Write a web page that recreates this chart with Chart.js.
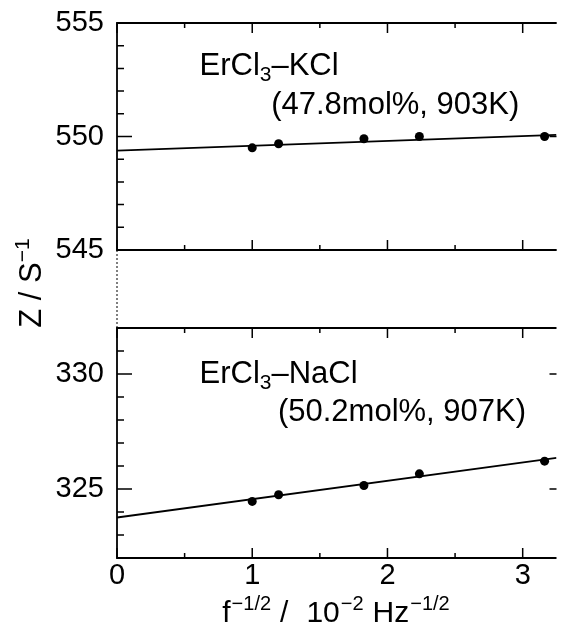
<!DOCTYPE html>
<html>
<head>
<meta charset="utf-8">
<script src="https://cdn.jsdelivr.net/npm/chart.js@4.4.1/dist/chart.umd.min.js"></script>
<style>
  html, body { margin: 0; padding: 0; background: #fff; }
  #wrap { position: relative; width: 561px; height: 626px; }
  #wrap canvas { position: absolute; left: 0; top: 0; }
</style>
</head>
<body>
<div id="wrap">
  <canvas id="chartKCl" width="561" height="626"></canvas>
  <canvas id="chartNaCl" width="561" height="626"></canvas>
</div>
<script>
// measured points, f^-1/2 in 10^-2 Hz^-1/2 (10k, 7k, 3k, 2k, 1k Hz)
const xVals = [1.0, 1.195, 1.826, 2.236, 3.162];
const kclZ = [549.50, 549.68, 549.90, 550.00, 550.00];
const naclZ = [324.46, 324.75, 325.15, 325.66, 326.21];

// fitted lines (end points)
const fitX = [0, 3.25];
const kclFit = [549.38, 550.07];
const naclFit = [323.76, 326.35];

const xTicks = [0, 1, 2, 3];
const kclTicks = [545, 550, 555];
const naclTicks = [325, 330];

const FONT = '"Liberation Sans", Arial, Helvetica, sans-serif';
const pts = (xs, ys) => xs.map((x, i) => ({ x: x, y: ys[i] }));

// rich text: parts = [text, mode, gapBefore] mode 0 normal, 1 sup, -1 sub
function richWidth(ctx, parts, size) {
  let w = 0;
  parts.forEach(([t, m, g]) => {
    ctx.font = (m ? Math.round(size * 0.68) : size) + "px " + FONT;
    w += (g || 0) + ctx.measureText(t).width;
  });
  return w;
}
function drawRich(ctx, parts, x, y, size) {
  ctx.textBaseline = "alphabetic";
  ctx.textAlign = "left";
  parts.forEach(([t, m, g]) => {
    ctx.font = (m ? Math.round(size * 0.68) : size) + "px " + FONT;
    const dy = m === 1 ? -size * 0.4 : m === -1 ? size * 0.2 : 0;
    x += g || 0;
    ctx.fillText(t, x, y + dy);
    x += ctx.measureText(t).width;
  });
}

// frame with inward ticks
const framePlugin = {
  id: "frame",
  afterDraw(chart, args, opts) {
    const ctx = chart.ctx;
    const { left, right, top, bottom } = chart.chartArea;
    const xs = chart.scales.x, ys = chart.scales.y;
    ctx.save();
    ctx.strokeStyle = "#000";
    ctx.lineWidth = 1.8;
    ctx.beginPath();
    ctx.moveTo(right, top); ctx.lineTo(left, top); ctx.lineTo(left, bottom); ctx.lineTo(right, bottom);
    ctx.stroke();
    ctx.lineWidth = 1.5;
    ctx.beginPath();
    for (let i = 0; i * 0.5 <= xs.max; i++) {
      const px = xs.getPixelForValue(i * 0.5);
      const len = i % 2 === 0 ? 10 : 5;
      ctx.moveTo(px, top); ctx.lineTo(px, top + len);
      ctx.moveTo(px, bottom); ctx.lineTo(px, bottom - len);
    }
    for (let v = ys.min; v <= ys.max; v++) {
      const py = ys.getPixelForValue(v);
      const major = v % 5 === 0;
      ctx.moveTo(left, py); ctx.lineTo(left + (major ? 15 : 7), py);
      if (major) { ctx.moveTo(right, py); ctx.lineTo(right - 7, py); }
    }
    ctx.stroke();
    if (opts.dotted) {
      ctx.lineWidth = 1;
      ctx.setLineDash([2, 2]);
      ctx.beginPath();
      ctx.moveTo(left, bottom); ctx.lineTo(left, opts.dotted);
      ctx.stroke();
      ctx.setLineDash([]);
    }
    ctx.fillStyle = "#000";
    (opts.texts || []).forEach(tx => {
      drawRich(ctx, tx.parts, xs.getPixelForValue(tx.x), ys.getPixelForValue(tx.y), tx.size);
    });
    if (opts.titles) {
      const xt = [["f", 0], ["\u22121/2", 1, 1], ["/", 0, 9], ["10", 0, 18], ["\u22122", 1, 1], ["Hz", 0, 9], ["\u22121/2", 1, 1]];
      const w = richWidth(ctx, xt, 30);
      drawRich(ctx, xt, 336 - w / 2, 622, 30);
      const yt = [["Z / S", 0], ["\u22121", 1]];
      ctx.save();
      ctx.translate(41, 283);
      ctx.rotate(-Math.PI / 2);
      const wy = richWidth(ctx, yt, 31);
      drawRich(ctx, yt, -wy / 2, 0, 31);
      ctx.restore();
    }
    ctx.restore();
  }
};

function makeChart(id, ys, fit, yMin, yMax, yTicks, bottomPanel, frameOpts) {
  return new Chart(document.getElementById(id), {
    type: "scatter",
    data: {
      datasets: [
        { data: pts(xVals, ys), pointRadius: 4.5, pointBackgroundColor: "#000", pointBorderColor: "#000", pointBorderWidth: 0 },
        { data: pts(fitX, fit), showLine: true, borderColor: "#000", borderWidth: 1.8, pointRadius: 0 }
      ]
    },
    options: {
      responsive: false,
      animation: false,
      layout: { padding: bottomPanel ? { left: 0, right: 0, top: 328, bottom: 0 } : { left: 0, right: 0, top: 23, bottom: 376 } },
      plugins: { legend: { display: false }, tooltip: { enabled: false }, frame: frameOpts },
      scales: {
        x: {
          type: "linear", min: 0, max: 3.25, display: bottomPanel,
          afterFit: s => { s.height = bottomPanel ? 68 : 0; },
          afterBuildTicks: s => { s.ticks = xTicks.map(v => ({ value: v })); },
          grid: { display: false }, border: { display: false },
          ticks: { padding: -7, color: "#000", font: { family: FONT, size: 29 } }
        },
        y: {
          min: yMin, max: yMax,
          afterFit: s => { s.width = 117; },
          afterBuildTicks: s => { s.ticks = yTicks.map(v => ({ value: v })); },
          grid: { display: false }, border: { display: false },
          ticks: { padding: 5, color: "#000", font: { family: FONT, size: 29 } }
        }
      }
    },
    plugins: [framePlugin]
  });
}

makeChart("chartKCl", kclZ, kclFit, 545, 555, kclTicks, false, {
  dotted: 328,
  texts: [
    { x: 0.61, y: 552.7, size: 31, parts: [["ErCl", 0], ["3", -1], ["\u2013KCl", 0]] },
    { x: 1.14, y: 551.0, size: 31, parts: [["(47.8mol%, 903K)", 0]] }
  ]
});
makeChart("chartNaCl", naclZ, naclFit, 322, 332, naclTicks, true, {
  titles: true,
  texts: [
    { x: 0.61, y: 329.6, size: 31, parts: [["ErCl", 0], ["3", -1], ["\u2013NaCl", 0]] },
    { x: 1.19, y: 327.95, size: 31, parts: [["(50.2mol%, 907K)", 0]] }
  ]
});
</script>
</body>
</html>
